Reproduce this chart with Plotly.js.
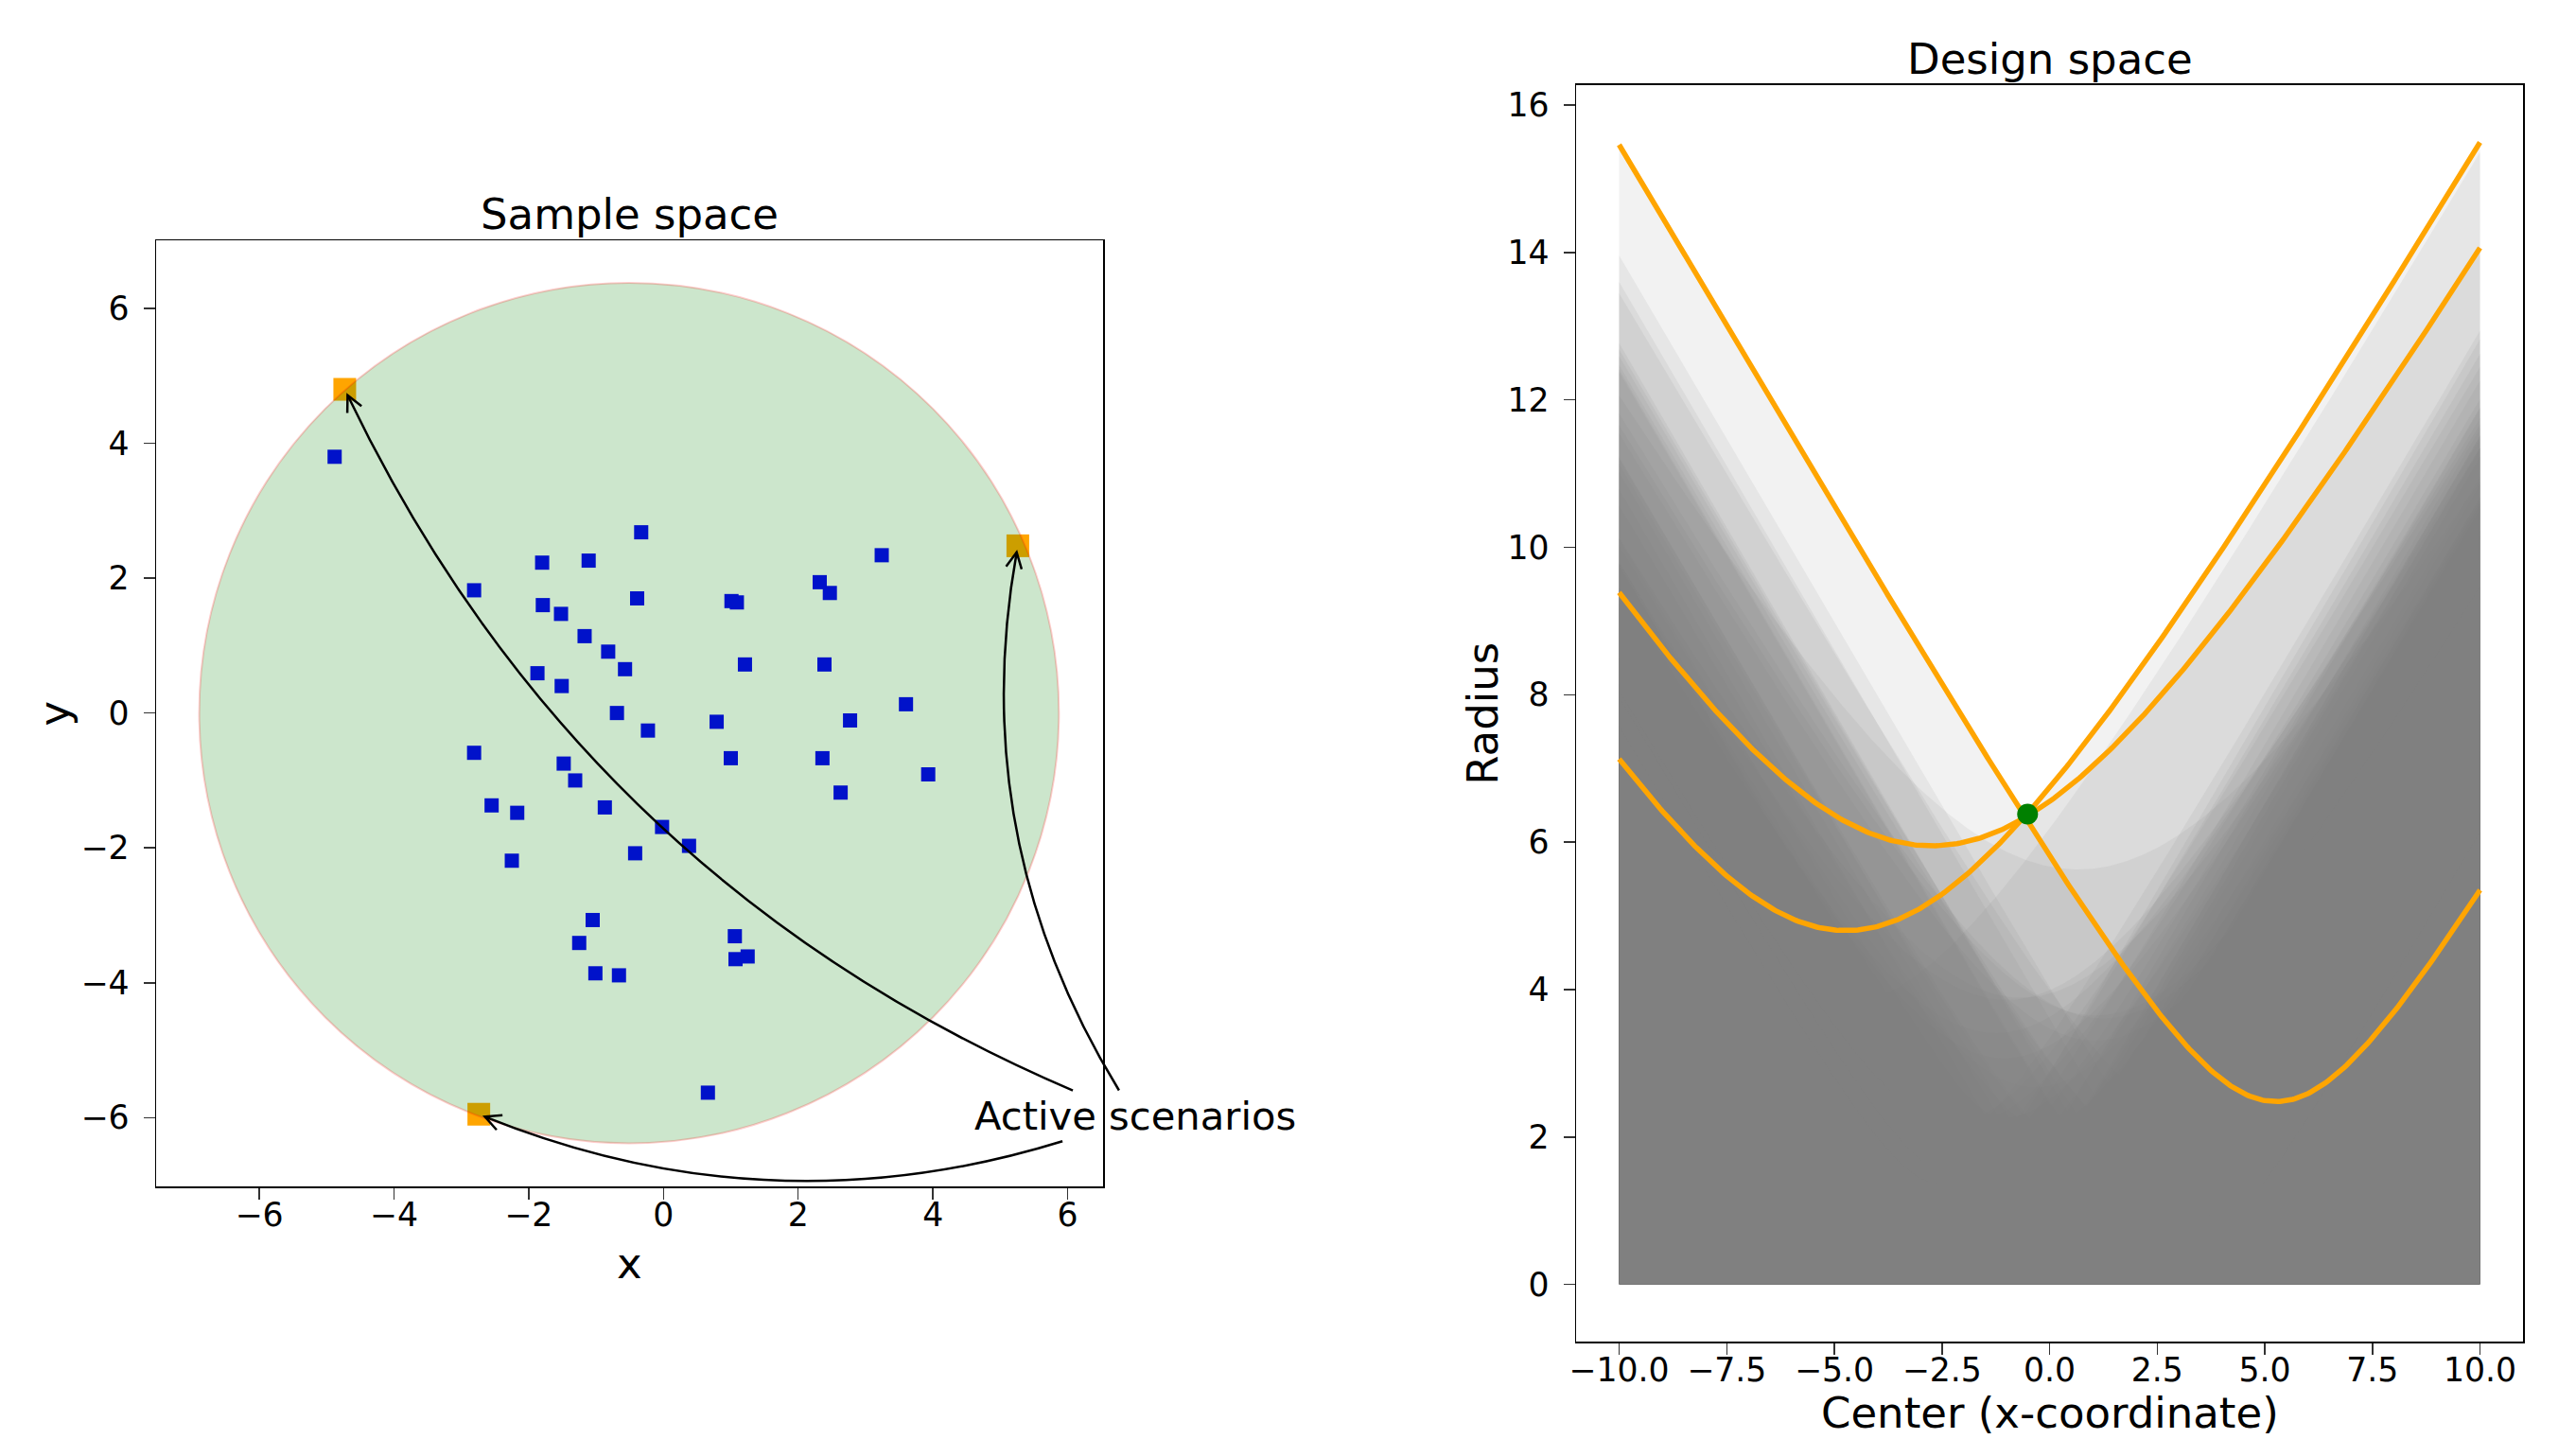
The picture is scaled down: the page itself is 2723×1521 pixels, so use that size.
<!DOCTYPE html>
<html><head><meta charset="utf-8">
<script src="https://cdn.plot.ly/plotly-3.0.1.min.js"></script>
<style>html,body{margin:0;padding:0;background:#fff;overflow:hidden}</style>
</head><body>
<div id="chart" style="width:2723px;height:1521px"></div>
<script>
// ---------------- data ----------------
const scenarioX = [-4.88, -0.33, 3.24, -1.80, -1.11, -2.81, 2.32, 2.47, -0.39, 1.01, 1.09, -1.79, -1.52, -1.17, -0.82, -0.57, 1.21, 2.39, -1.87, -1.51, 3.60, -0.69, -0.23, 0.79, 2.77, -2.81, 1.00, 2.36, -1.48, 3.93, -1.31, 2.63, -2.55, -2.17, -0.87, -0.02, 0.38, -0.42, -2.25, -1.05, 1.06, -1.25, 1.07, 1.25, -1.01, -0.66, 0.66];
const scenarioY = [3.80, 2.68, 2.34, 2.23, 2.26, 1.82, 1.94, 1.78, 1.70, 1.66, 1.64, 1.60, 1.47, 1.14, 0.91, 0.65, 0.72, 0.72, 0.59, 0.40, 0.13, 0.00, -0.26, -0.13, -0.11, -0.59, -0.67, -0.67, -0.75, -0.91, -1.00, -1.18, -1.37, -1.48, -1.40, -1.69, -1.97, -2.08, -2.19, -3.07, -3.31, -3.41, -3.65, -3.61, -3.86, -3.89, -5.63];
const activeX = [-4.73, 5.26, -2.74];
const activeY = [4.80, 2.48, -5.95];
const optimumCenter = -0.51;
const optimumRadius = 6.38;
const centerMin = -10, centerMax = 10, centerSteps = 400;

const leftXTicks = [-6, -4, -2, 0, 2, 4, 6];
const leftXTickText = ['\u22126', '\u22124', '\u22122', '0', '2', '4', '6'];
const leftYTicks = [-6, -4, -2, 0, 2, 4, 6];
const leftYTickText = ['\u22126', '\u22124', '\u22122', '0', '2', '4', '6'];
const rightXTicks = [-10, -7.5, -5, -2.5, 0, 2.5, 5, 7.5, 10];
const rightXTickText = ['\u221210.0', '\u22127.5', '\u22125.0', '\u22122.5', '0.0', '2.5', '5.0', '7.5', '10.0'];
const rightYTicks = [0, 2, 4, 6, 8, 10, 12, 14, 16];
const rightYTickText = ['0', '2', '4', '6', '8', '10', '12', '14', '16'];

const annotText = 'Active scenarios';
const annotPos = [7.0, -5.97];
const arrowRad = -0.2;

// ---------------- layout constants ----------------
const W = 2723, H = 1521;
const FONT = 'DejaVu Sans';
const L = {xdom: [165 / W, 1166 / W], ydom: [1 - 1254 / H, 1 - 254 / H], xr: [-7.53, 6.525], yr: [-7.02, 7.01]};
const R = {xdom: [1666 / W, 2667 / W], ydom: [1 - 1418 / H, 1 - 89.5 / H], xr: [-11, 11], yr: [-0.775, 16.275]};

function lpx(x) { return L.xdom[0] + (x - L.xr[0]) / (L.xr[1] - L.xr[0]) * (L.xdom[1] - L.xdom[0]); }
function lpy(y) { return L.ydom[0] + (y - L.yr[0]) / (L.yr[1] - L.yr[0]) * (L.ydom[1] - L.ydom[0]); }

// ---------------- traces ----------------
const traces = [];
// active scenarios (drawn under the circle) on an underlay subplot
traces.push({x: activeX, y: activeY, xaxis: 'x', yaxis: 'y', type: 'scatter', mode: 'markers',
  marker: {symbol: 'square', size: 24, color: '#FFA500', line: {width: 0}}, hoverinfo: 'skip'});
// ordinary scenarios
traces.push({x: scenarioX, y: scenarioY, xaxis: 'x2', yaxis: 'y2', type: 'scatter', mode: 'markers',
  marker: {symbol: 'square', size: 15, color: '#0012CA', line: {width: 0}}, hoverinfo: 'skip'});

// design space
const centers = [];
for (let i = 0; i <= centerSteps; i++) centers.push(centerMin + (centerMax - centerMin) * i / centerSteps);
function radiusCurve(px, py) { return centers.map(c => Math.sqrt((c - px) * (c - px) + py * py)); }

const allX = scenarioX.concat(activeX), allY = scenarioY.concat(activeY);
for (let k = 0; k < allX.length; k++) {
  traces.push({x: centers, y: radiusCurve(allX[k], allY[k]), xaxis: 'x3', yaxis: 'y3', type: 'scatter', mode: 'lines',
    fill: 'tozeroy', fillcolor: 'rgba(128,128,128,0.1)', line: {width: 0, color: 'rgba(0,0,0,0)'}, hoverinfo: 'skip'});
}
for (let k = 0; k < activeX.length; k++) {
  traces.push({x: centers, y: radiusCurve(activeX[k], activeY[k]), xaxis: 'x3', yaxis: 'y3', type: 'scatter', mode: 'lines',
    line: {width: 5.5, color: '#FFA500'}, hoverinfo: 'skip'});
}
traces.push({x: [optimumCenter], y: [optimumRadius], xaxis: 'x3', yaxis: 'y3', type: 'scatter', mode: 'markers',
  marker: {symbol: 'circle', size: 22, color: '#008000', line: {width: 0}}, hoverinfo: 'skip', cliponaxis: false});

// ---------------- shapes ----------------
const shapes = [];
shapes.push({type: 'circle', xref: 'x2', yref: 'y2', layer: 'below',
  x0: optimumCenter - optimumRadius, x1: optimumCenter + optimumRadius, y0: -optimumRadius, y1: optimumRadius,
  fillcolor: 'rgba(0,128,0,0.2)', line: {color: 'rgba(255,0,0,0.2)', width: 2}});

// curved arrows (arc3 style) from the label to each active scenario
const boxHalfW = 2.45, boxTop = -5.60, boxBot = -6.35;
for (let k = 0; k < activeX.length; k++) {
  const P0 = annotPos, P2 = [activeX[k], activeY[k]];
  const dx = P2[0] - P0[0], dy = P2[1] - P0[1];
  const C = [(P0[0] + P2[0]) / 2 + arrowRad * dy, (P0[1] + P2[1]) / 2 - arrowRad * dx];
  const B = t => [(1 - t) * (1 - t) * P0[0] + 2 * t * (1 - t) * C[0] + t * t * P2[0],
                  (1 - t) * (1 - t) * P0[1] + 2 * t * (1 - t) * C[1] + t * t * P2[1]];
  let t0 = 0;
  for (let t = 0; t < 1; t += 0.0005) {
    const p = B(t);
    if (Math.abs(p[0] - P0[0]) > boxHalfW || p[1] > boxTop || p[1] < boxBot) { t0 = t; break; }
  }
  const S = B(t0);
  const C2 = [(1 - t0) * C[0] + t0 * P2[0], (1 - t0) * C[1] + t0 * P2[1]];
  const ux0 = P2[0] - C2[0], uy0 = P2[1] - C2[1], un = Math.hypot(ux0, uy0);
  const u = [ux0 / un, uy0 / un], n = [-u[1], u[0]];
  const shrink = 0.0975, hl = 0.234, hw = 0.117;
  const tip = [P2[0] - shrink * u[0], P2[1] - shrink * u[1]];
  shapes.push({type: 'path', xref: 'paper', yref: 'paper', layer: 'above',
    path: `M ${lpx(S[0])},${lpy(S[1])} Q ${lpx(C2[0])},${lpy(C2[1])} ${lpx(tip[0])},${lpy(tip[1])}`,
    line: {color: '#000', width: 2.5}, fillcolor: 'rgba(0,0,0,0)'});
  const a = [tip[0] - hl * u[0] + hw * n[0], tip[1] - hl * u[1] + hw * n[1]];
  const b = [tip[0] - hl * u[0] - hw * n[0], tip[1] - hl * u[1] - hw * n[1]];
  shapes.push({type: 'path', xref: 'paper', yref: 'paper', layer: 'above',
    path: `M ${lpx(a[0])},${lpy(a[1])} L ${lpx(tip[0])},${lpy(tip[1])} L ${lpx(b[0])},${lpy(b[1])}`,
    line: {color: '#000', width: 2.5}, fillcolor: 'rgba(0,0,0,0)'});
}

// ---------------- annotations ----------------
const fx = px => px / W, fy = py => 1 - py / H;
const TF = 45, TICKF = 34.7, AF = 41.67;
const annotations = [
  {text: 'Sample space', xref: 'paper', yref: 'paper', x: fx(665.5), y: fy(242 - 0.346 * TF), xanchor: 'center', yanchor: 'middle', showarrow: false, font: {family: FONT, size: TF, color: '#000'}},
  {text: 'Design space', xref: 'paper', yref: 'paper', x: fx(2166.5), y: fy(78 - 0.346 * TF), xanchor: 'center', yanchor: 'middle', showarrow: false, font: {family: FONT, size: TF, color: '#000'}},
  {text: 'x', xref: 'paper', yref: 'paper', x: fx(665.5), y: fy(1351.5 - 0.346 * TF), xanchor: 'center', yanchor: 'middle', showarrow: false, font: {family: FONT, size: TF, color: '#000'}},
  {text: 'Center (x-coordinate)', xref: 'paper', yref: 'paper', x: fx(2166.5), y: fy(1509 - 0.346 * TF), xanchor: 'center', yanchor: 'middle', showarrow: false, font: {family: FONT, size: TF, color: '#000'}},
  {text: 'y', xref: 'paper', yref: 'paper', x: fx(73 - 0.346 * TF), y: fy(754), xanchor: 'center', yanchor: 'middle', textangle: -90, showarrow: false, font: {family: FONT, size: TF, color: '#000'}},
  {text: 'Radius', xref: 'paper', yref: 'paper', x: fx(1583.5 - 0.346 * TF), y: fy(753.75), xanchor: 'center', yanchor: 'middle', textangle: -90, showarrow: false, font: {family: FONT, size: TF, color: '#000'}},
  {text: annotText, xref: 'paper', yref: 'paper', x: lpx(annotPos[0]), y: lpy(annotPos[1]), xanchor: 'center', yanchor: 'middle', showarrow: false, font: {family: FONT, size: AF, color: '#000'}}
];

// ---------------- axes ----------------
function axisStyle(extra) {
  return Object.assign({
    showline: true, mirror: true, linecolor: '#000', linewidth: 1.5,
    ticks: 'outside', ticklen: 12, tickwidth: 1.5, tickcolor: '#333',
    showgrid: false, zeroline: false, fixedrange: true,
    tickfont: {family: FONT, size: TICKF, color: '#000'}, tickmode: 'array'
  }, extra);
}

const layout = {
  width: W, height: H, margin: {l: 0, r: 0, t: 0, b: 0, pad: 0},
  paper_bgcolor: '#fff', plot_bgcolor: 'rgba(0,0,0,0)', showlegend: false,
  font: {family: FONT, color: '#000'},
  xaxis: {domain: L.xdom, range: L.xr, visible: false, anchor: 'y', fixedrange: true},
  yaxis: {domain: L.ydom, range: L.yr, visible: false, anchor: 'x', fixedrange: true},
  xaxis2: axisStyle({domain: L.xdom, range: L.xr, anchor: 'y2', tickvals: leftXTicks, ticktext: leftXTickText, ticklabelstandoff: -13}),
  yaxis2: axisStyle({domain: L.ydom, range: L.yr, anchor: 'x2', tickvals: leftYTicks, ticktext: leftYTickText, ticklabelstandoff: 8}),
  xaxis3: axisStyle({domain: R.xdom, range: R.xr, anchor: 'y3', tickvals: rightXTicks, ticktext: rightXTickText, ticklabelstandoff: -13}),
  yaxis3: axisStyle({domain: R.ydom, range: R.yr, anchor: 'x3', tickvals: rightYTicks, ticktext: rightYTickText, ticklabelstandoff: 8}),
  shapes: shapes, annotations: annotations
};

Plotly.newPlot('chart', traces, layout, {displayModeBar: false, staticPlot: true});
</script>
</body></html>
